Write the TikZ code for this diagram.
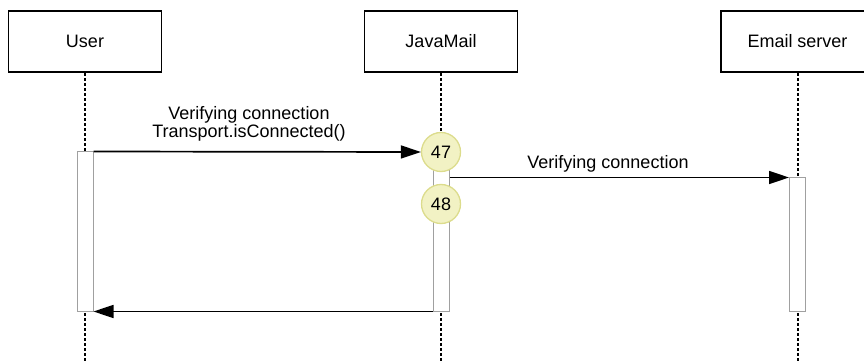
\documentclass[tikz,border=0pt]{standalone}
\usepackage{fontspec}
\setmainfont{Liberation Sans}
\usetikzlibrary{arrows.meta,positioning}
\definecolor{numfill}{HTML}{F2F2C4}
\definecolor{numrule}{HTML}{DCDC8C}
\definecolor{actrule}{HTML}{A0A0A0}

\begin{document}
\begin{tikzpicture}[
  x=1pt, y=-1pt,
  font=\fontsize{18}{19}\selectfont,
  obj/.style={draw, line width=1.8pt, minimum width=153pt, minimum height=61pt, inner sep=0pt},
  act/.style={draw=actrule, line width=1pt, fill=white, minimum width=16pt, inner sep=0pt},
  life/.style={line width=2pt, dash pattern=on 3pt off 2pt},
  msg/.style={-{Triangle[length=20pt, width=13pt]}, line width=1.7pt},
  num/.style={circle, draw=numrule, line width=1.3pt, fill=numfill, minimum size=39pt, inner sep=0pt},
  lbl/.style={align=center, inner sep=0pt, font=\fontsize{18}{18}\selectfont},
]
\useasboundingbox (0,0) rectangle (864,363);

\node[obj] (user) at (85,41.5) {User};
\node[obj] (jmail) at (441,41.5) {JavaMail};
\node[obj] (esrv) at (797.5,41.5) {Email server};

\coordinate (uend) at (85,363);
\coordinate (jend) at (441,363);
\coordinate (eend) at (797.5,363);

\foreach \a/\b in {user/uend, jmail/jend, esrv/eend}
  \draw[life] (\a) -- (\b);

\node[act, minimum height=159pt] (uact) at (85,231.5) {};
\node[act, minimum height=159pt] (jact) at (441,231.5) {};
\node[act, minimum height=133pt] (eact) at (797.5,244.5) {};

\node[num] (c47) at (441,152) {47};
\node[num] (c48) at (441,204) {48};

\draw[msg] (uact.north east) -- (c47.west);
\draw[msg] (jact.east |- eact.north) -- (eact.north west);
\draw[msg] (jact.south west) -- (uact.south east);

\node[lbl, anchor=base] (m1) at (249,138) {Verifying connection\\Transport.isConnected()};
\node[lbl, anchor=base] (m2) at (608,169) {Verifying connection};

\end{tikzpicture}
\end{document}
